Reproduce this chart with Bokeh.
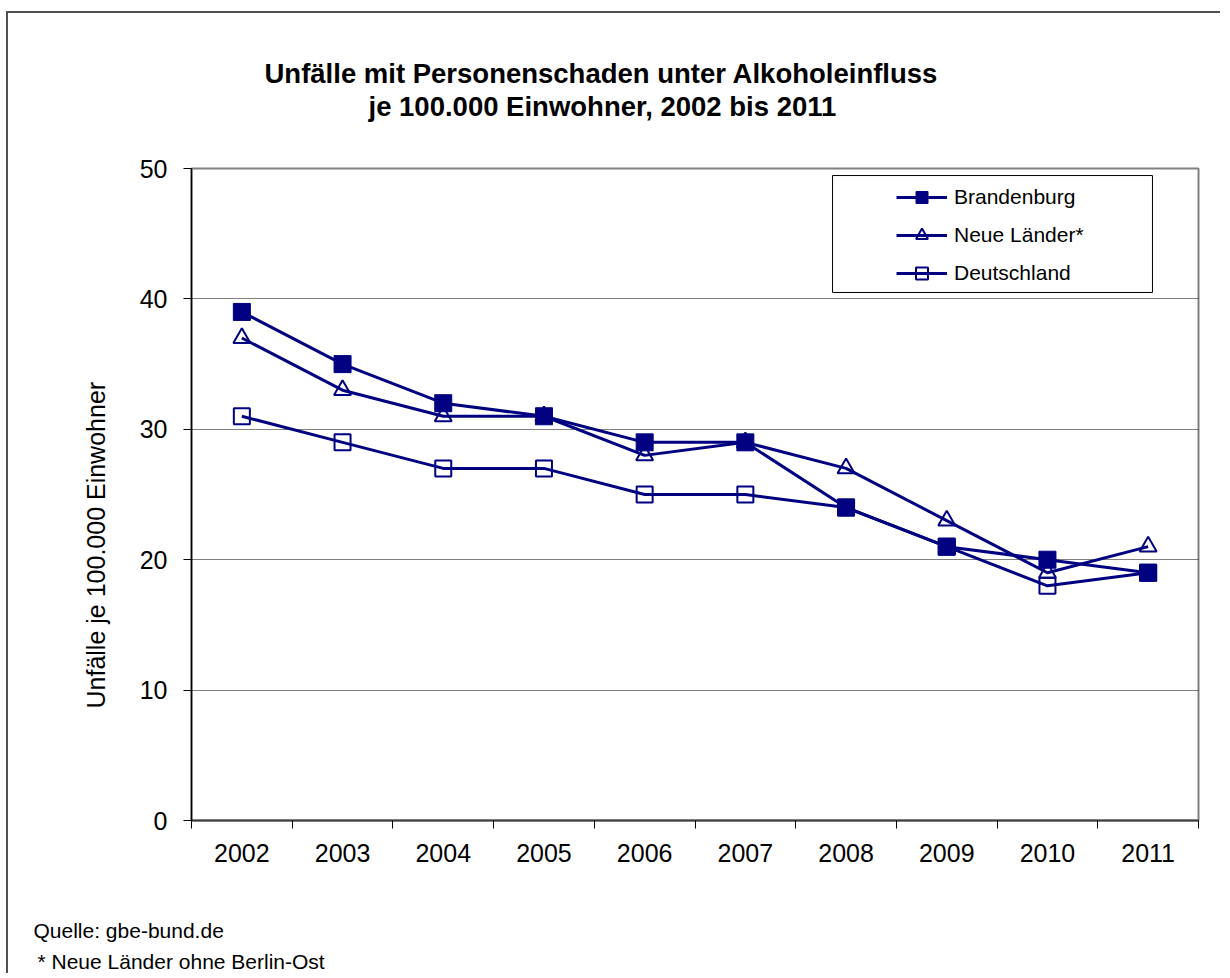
from bokeh.plotting import figure
from bokeh.models import Range1d, FixedTicker, Legend, LegendItem, BoxAnnotation, Title
from bokeh.embed import file_html
from bokeh.resources import INLINE

years = ["2002", "2003", "2004", "2005", "2006", "2007", "2008", "2009", "2010", "2011"]
brandenburg = [39, 35, 32, 31, 29, 29, 24, 21, 20, 19]
neue_laender = [37, 33, 31, 31, 28, 29, 27, 23, 19, 21]
deutschland = [31, 29, 27, 27, 25, 25, 24, 21, 18, 19]
y_ticks = [0, 10, 20, 30, 40, 50]

NAVY = "#000080"
FONT = "Liberation Sans"

x = [i + 0.5 for i in range(len(years))]

p = figure(width=1214, height=962, x_range=Range1d(0, len(years)), y_range=Range1d(0, 50),
           output_backend="svg", toolbar_location=None, title=None,
           min_border_left=183, min_border_right=24, min_border_top=155, min_border_bottom=155)
p.styles = {"border-top": "2px solid #505050", "border-left": "2px solid #505050",
            "margin-top": "11px", "margin-left": "6px"}
p.outline_line_color = "#808080"
p.outline_line_width = 2
p.background_fill_color = "white"
p.border_fill_color = "white"

# x axis
p.xaxis.ticker = FixedTicker(ticks=x, minor_ticks=list(range(len(years) + 1)))
p.xaxis.major_label_overrides = {xv: yr for xv, yr in zip(x, years)}
p.xaxis.major_tick_line_color = None
p.xaxis.major_tick_out = 0
p.xaxis.major_tick_in = 0
p.xaxis.minor_tick_line_color = "black"
p.xaxis.minor_tick_out = 8
p.xaxis.minor_tick_in = 0
p.xaxis.axis_line_color = "#404040"
p.xaxis.axis_line_width = 2
p.xaxis.major_label_text_font = FONT
p.xaxis.major_label_text_font_size = "25px"
p.xaxis.major_label_text_color = "black"
p.xaxis.major_label_standoff = 15

# y axis
p.yaxis.ticker = FixedTicker(ticks=y_ticks)
p.yaxis.major_tick_out = 8
p.yaxis.major_tick_in = 0
p.yaxis.major_tick_line_color = "black"
p.yaxis.minor_tick_line_color = None
p.yaxis.axis_line_color = "black"
p.yaxis.axis_line_width = 1.5
p.yaxis.major_label_text_font = FONT
p.yaxis.major_label_text_font_size = "25px"
p.yaxis.major_label_text_color = "black"
p.yaxis.major_label_standoff = 16

# grid
p.xgrid.visible = False
p.ygrid.ticker = FixedTicker(ticks=y_ticks[1:-1])
p.ygrid.grid_line_color = "black"
p.ygrid.grid_line_dash = "1 1"
p.ygrid.grid_line_width = 1

# series
l_b = p.line(x, brandenburg, line_color=NAVY, line_width=3)
l_n = p.line(x, neue_laender, line_color=NAVY, line_width=3)
l_d = p.line(x, deutschland, line_color=NAVY, line_width=3)
s_d = p.scatter(x, deutschland, marker="square", size=16, fill_color=None, line_color=NAVY, line_width=2)
s_n = p.scatter(x, neue_laender, marker="triangle", size=17, fill_color=None, line_color=NAVY, line_width=2)
s_b = p.scatter(x, brandenburg, marker="square", size=17, fill_color=NAVY, line_color=NAVY, line_width=1)

# legend box + legend
box = BoxAnnotation(left=6.366, right=9.543, bottom=40.49, top=49.46,
                    fill_color="white", fill_alpha=1, line_color="black", line_alpha=1, line_width=1)
p.add_layout(box)
legend = Legend(items=[LegendItem(label="Brandenburg", renderers=[l_b, s_b]),
                       LegendItem(label="Neue Länder*", renderers=[l_n, s_n]),
                       LegendItem(label="Deutschland", renderers=[l_d, s_d])],
                location=(705, 532), border_line_color=None, background_fill_alpha=0,
                label_text_font=FONT, label_text_font_size="21px", label_text_color="black",
                glyph_width=51, glyph_height=30, label_standoff=7, spacing=8, padding=7, margin=0)
p.add_layout(legend)

TITLE_STYLE = dict(text_font=FONT, text_font_size="27.5px", text_font_style="bold", text_color="black")
NOTE_STYLE = dict(text_font=FONT, text_font_size="21px", text_font_style="normal", text_color="black")

# titles (above: first added is nearest the plot)
p.add_layout(Title(text=" ", align="left", offset=0, standoff=14, **TITLE_STYLE), "above")
p.add_layout(Title(text="je 100.000 Einwohner, 2002 bis 2011", align="left", offset=177,
                   standoff=0, **TITLE_STYLE), "above")
p.add_layout(Title(text="Unfälle mit Personenschaden unter Alkoholeinfluss", align="left", offset=73,
                   standoff=0, **TITLE_STYLE), "above")

# y-axis title
p.add_layout(Title(text="Unfälle je 100.000 Einwohner", align="left", offset=112, standoff=54,
                   text_font=FONT, text_font_size="25px", text_font_style="normal",
                   text_color="black"), "left")

# footnotes (below the x axis)
p.add_layout(Title(text=" ", align="left", offset=0, standoff=21, **NOTE_STYLE), "below")
p.add_layout(Title(text="Quelle: gbe-bund.de", align="left", offset=-158, standoff=12,
                   **NOTE_STYLE), "below")
p.add_layout(Title(text="* Neue Länder ohne Berlin-Ost", align="left", offset=-154, standoff=0,
                   **NOTE_STYLE), "below")

open("out.html", "w").write(file_html(p, INLINE))
